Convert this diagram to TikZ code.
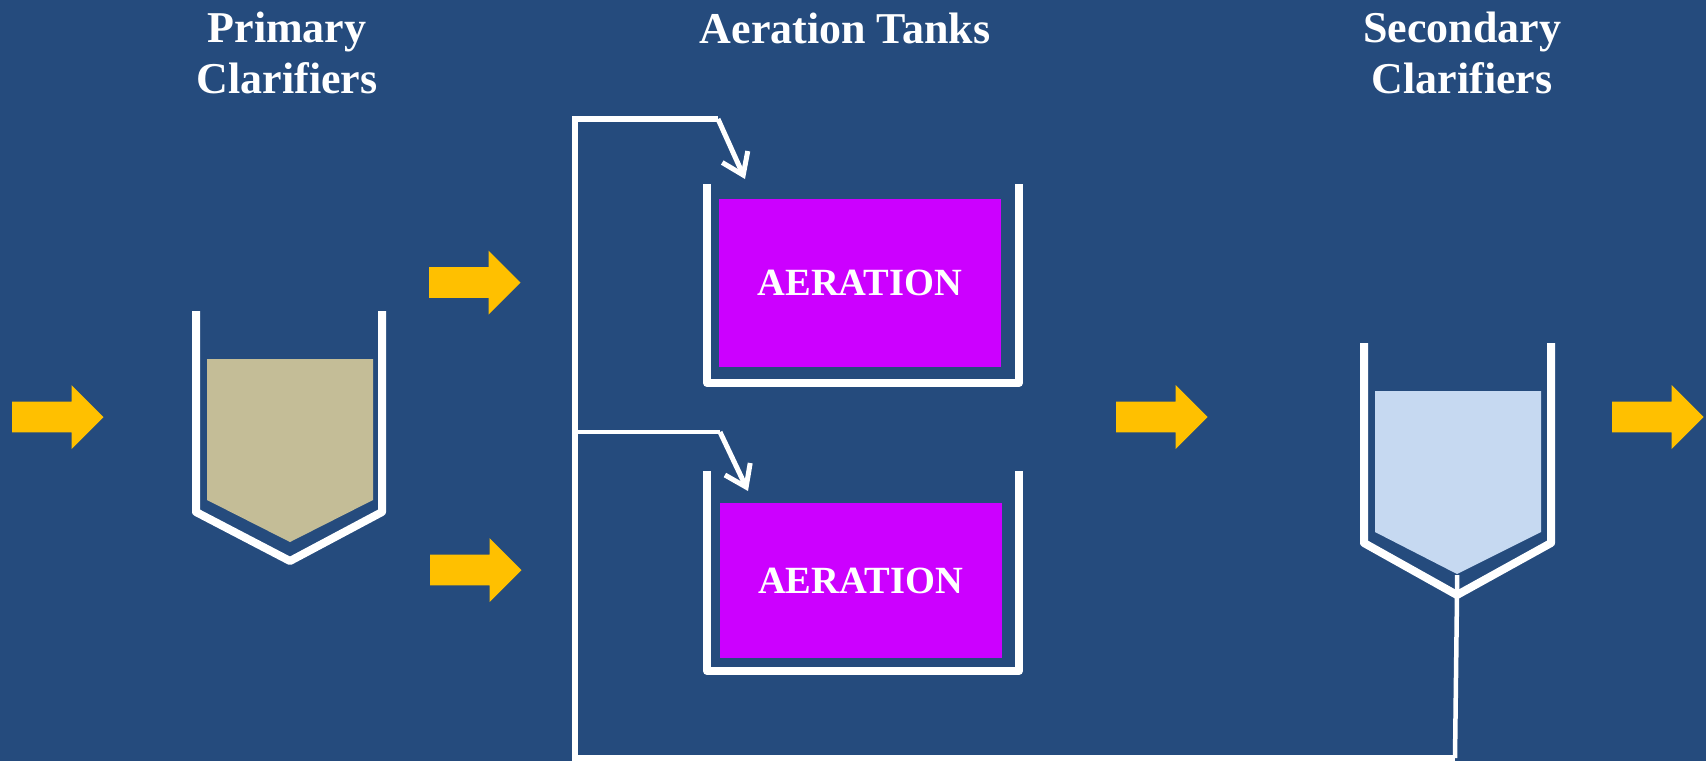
\documentclass[tikz,border=0pt]{standalone}
\usepackage{fontspec}
\setmainfont{Liberation Serif}
\usetikzlibrary{arrows.meta}

\definecolor{bgblue}{RGB}{37,75,125}
\definecolor{flowyellow}{RGB}{255,192,0}
\definecolor{sludgetan}{RGB}{196,189,151}
\definecolor{clearblue}{RGB}{198,217,241}
\definecolor{aerpurple}{RGB}{204,0,255}

\tikzset{
  title/.style={text=white, font=\fontsize{44}{50}\selectfont\bfseries, anchor=base, inner sep=0pt},
  tankwall/.style={draw=white, line width=8pt, line join=round},
  aerbox/.style={fill=aerpurple, draw=none, minimum width=282pt, minimum height=168pt,
    text=white, font=\fontsize{38.5}{44}\selectfont\bfseries, inner sep=0pt},
  pipe/.style={draw=white, line width=5.5pt, line join=miter},
  thinpipe/.style={draw=white, line width=4.5pt},
  feed/.style={draw=white, line width=5pt, -{Straight Barb[length=20pt,width=28pt]}},
  flowarrow/.pic={
    \fill[flowyellow] (0,-15.3) -- (59.5,-15.3) -- (59.5,-32) -- (91.5,0)
      -- (59.5,32) -- (59.5,15.3) -- (0,15.3) -- cycle;
  }
}

\begin{document}
\begin{tikzpicture}[x=1pt,y=-1pt]
  % canvas
  \fill[bgblue] (0,0) rectangle (1706,761);
  \useasboundingbox (0,0) rectangle (1706,761);

  % headings
  \node[title] (pcA) at (287,42.7) {Primary};
  \node[title] (pcB) at (287,93.3) {Clarifiers};
  \node[title] (atA) at (845,43) {Aeration Tanks};
  \node[title] (scA) at (1462,42.7) {Secondary};
  \node[title] (scB) at (1462,93.3) {Clarifiers};

  % yellow flow arrows
  \pic at (12,417) {flowarrow};
  \pic at (429,282.5) {flowarrow};
  \pic at (430,570) {flowarrow};
  \pic at (1116,417) {flowarrow};
  \pic at (1612,417) {flowarrow};

  % primary clarifier
  \fill[sludgetan] (207,359) -- (373,359) -- (373,500) -- (290,542) -- (207,500) -- cycle;
  \draw[tankwall] (196,311) -- (196,512) -- (290,561) -- (382,512) -- (382,311);

  % aeration tanks
  \node[aerbox] (aer1) at (860,283) {AERATION};
  \node[aerbox, minimum height=155pt] (aer2) at (860.5,580.5) {AERATION};
  \draw[tankwall] (707,184) -- (707,383) -- (1019,383) -- (1019,184);
  \draw[tankwall] (707,471) -- (707,671) -- (1019,671) -- (1019,471);

  % secondary clarifier
  \fill[clearblue] (1375,391) -- (1541,391) -- (1541,532) -- (1457,574) -- (1375,532) -- cycle;
  \draw[tankwall] (1364,343) -- (1364,543) -- (1457,595) -- (1551,543) -- (1551,343);

  % return sludge line
  \coordinate (sTop) at (1457,575);
  \coordinate (sOut) at (1457,595);
  \coordinate (sDrop) at (1455,758);
  \coordinate (rBot) at (575,758);
  \coordinate (rTop) at (575,119);
  \coordinate (rTopEnd) at (718,119);
  \coordinate (rMid) at (575,432);
  \coordinate (rMidEnd) at (720,432);
  \coordinate (in1) at (745,179);
  \coordinate (in2) at (748,491);

  \draw[thinpipe] (sTop) -- (sOut) -- (sDrop);
  \draw[pipe] (sDrop) -- (rBot) -- (rTop) -- (rTopEnd);
  \draw[thinpipe] (rMid) -- (rMidEnd);
  \draw[feed] (rTopEnd) -- (in1);
  \draw[feed] (rMidEnd) -- (in2);
\end{tikzpicture}
\end{document}
